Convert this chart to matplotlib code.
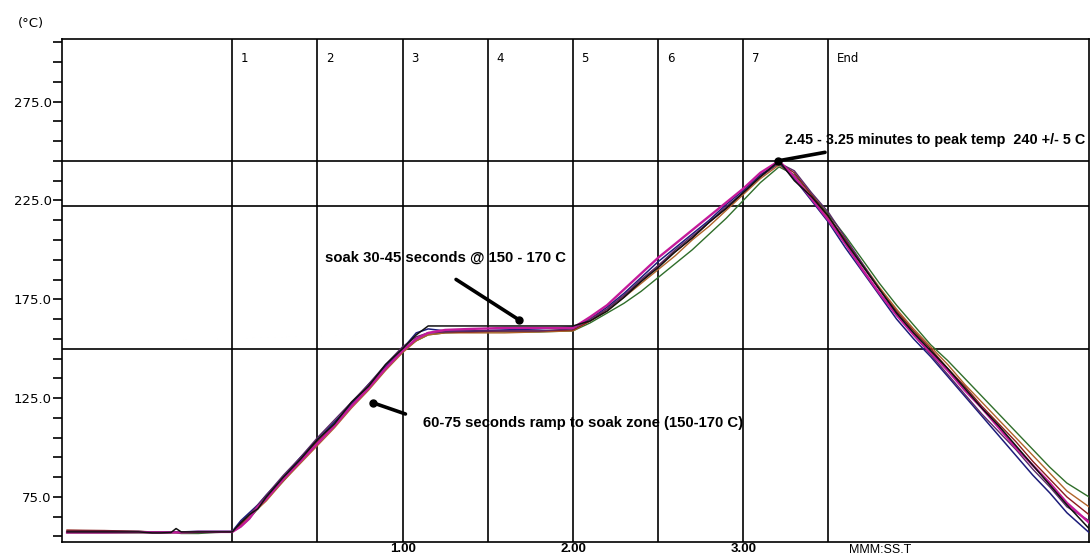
import numpy as np
import matplotlib
matplotlib.use("Agg")
import matplotlib.pyplot as plt
from matplotlib.ticker import FixedLocator, FormatStrFormatter

# time in minutes (0.00 = start of zone 1), shared by all thermocouples
time_min = [-0.97, -0.75, -0.55, -0.47, -0.42, -0.36, -0.33, -0.30, -0.20, -0.10, 0.00,
            0.05, 0.10, 0.15, 0.20, 0.30, 0.40, 0.50, 0.60, 0.70, 0.80, 0.90, 1.00, 1.08, 1.15, 1.25,
            1.40, 1.60, 1.80, 2.00,
            2.10, 2.20, 2.30, 2.40, 2.50, 2.60, 2.70, 2.80, 2.90, 3.00, 3.10, 3.21,
            3.30, 3.40, 3.50, 3.60, 3.70, 3.80, 3.90, 4.00, 4.10, 4.20, 4.30, 4.40, 4.50, 4.60,
            4.70, 4.80, 4.90, 5.03]

tc_green = [56.8, 56.8, 56.8, 56.8, 56.8, 56.8, 56.8, 56.5, 56.5, 57.0, 57.3,
            60, 64, 69, 74, 83, 93, 102, 112, 121, 130, 140, 149, 154, 157, 158,
            158.5, 158.5, 158.5, 159,
            163, 168, 173, 179, 186, 193, 200, 208, 216, 225, 234, 242,
            238, 228, 218, 207, 195, 183, 172, 162, 152, 144, 135, 126, 117, 108,
            99, 90, 82, 75]
tc_sienna = [58.0, 57.8, 57.5, 57.3, 57.3, 57.3, 57.3, 57.3, 57.3, 57.3, 57.3,
             61, 65, 69, 73, 83, 92, 101, 110, 120, 129, 139, 148, 154, 157, 158,
             158, 158, 158.5, 159,
             164, 169, 176, 183, 190, 197, 205, 212, 220, 228, 236, 243,
             237, 227, 216, 205, 193, 181, 170, 160, 151, 142, 132, 123, 114, 105,
             96, 87, 78, 70]
tc_red = [58.2, 58.0, 57.6, 57.3, 57.3, 57.3, 57.3, 57.3, 57.3, 57.3, 57.3,
          61, 66, 70, 75, 84, 94, 103, 112, 122, 131, 140, 149, 155, 158, 158.5,
          158.5, 159, 159, 159.5,
          164, 170, 177, 184, 192, 199, 206, 214, 221, 229, 237, 244,
          239, 228, 217, 205, 192, 180, 169, 159, 150, 140, 131, 121, 112, 103,
          93, 84, 75, 66]
tc_navy = [57.5, 57.5, 57.5, 57.2, 57.2, 57.3, 57.3, 57.3, 57.6, 57.6, 57.6,
           63, 67, 71, 76, 85, 95, 104, 113, 122, 132, 141, 150, 158, 160, 159,
           159, 159.5, 160, 161,
           165, 171, 178, 186, 194, 201, 208, 215, 223, 230, 238, 244,
           236, 225, 214, 201, 189, 177, 165, 155, 146, 136, 126, 116, 106, 96,
           86, 77, 67, 57]
tc_purple = [57.3, 57.3, 57.3, 57.0, 57.0, 57.2, 57.3, 57.3, 57.3, 57.3, 57.3,
             62, 66, 71, 76, 86, 95, 105, 114, 123, 132, 142, 151, 156, 158, 158.5,
             159, 159, 159, 160,
             165, 170, 177, 185, 192, 200, 207, 214, 222, 229, 237, 244,
             240, 229, 219, 206, 193, 180, 168, 157, 147, 137, 127, 117, 108, 99,
             89, 80, 70, 63]
tc_magenta = [57.0, 57.0, 57.2, 57.0, 57.0, 57.0, 57.0, 57.0, 57.3, 57.3, 57.3,
              60, 64, 70, 74, 84, 93, 102, 111, 121, 130, 140, 149, 155, 158, 159.5,
              160, 160.5, 160.5, 160.5,
              166, 172, 180, 188, 196, 203, 210, 217, 224, 231, 239, 245,
              237, 226, 215, 203, 190, 178, 167, 157, 148, 139, 129, 120, 110, 100,
              91, 82, 72, 62]
tc_black = [57.3, 57.3, 57.3, 56.8, 56.8, 57.0, 59.0, 57.3, 57.3, 57.3, 57.3,
            62, 66, 69, 75, 85, 94, 104, 112, 123, 131, 142, 150, 157, 161.5, 161.5,
            161.5, 161.5, 161.5, 161.5,
            164, 169, 176, 184, 191, 199, 206, 214, 221, 229, 237, 245,
            235, 227, 217, 204, 192, 180, 168, 158, 149, 140, 130, 120, 111, 101,
            91, 81, 71, 59]

zone_edges = [0.0, 0.5, 1.0, 1.5, 2.0, 2.5, 3.0, 3.5]
zone_names = ["1", "2", "3", "4", "5", "6", "7", "End"]
limit_temps = [150, 222, 245]
y_labels = [75, 125, 175, 225, 275]
y_minor = [55, 65, 85, 95, 105, 115, 135, 145, 155, 165, 185, 195, 205, 215,
           235, 245, 255, 265, 285, 295, 305]
x_labels = [1.0, 2.0, 3.0]

fig = plt.figure(figsize=(10.91, 5.56), dpi=100)
ax = fig.add_axes([0.0568, 0.0252, 0.9414, 0.9047])
ax.set_xlim(-1.0, 5.03)
ax.set_ylim(52.2, 306.7)

for x in zone_edges:
    ax.axvline(x, color="black", lw=1.2, zorder=1)
for y in limit_temps:
    ax.axhline(y, color="black", lw=1.2, zorder=1)

series = [
    (tc_green, "#2f6e2a", 1.0),
    (tc_sienna, "#b0642a", 1.0),
    (tc_red, "#8b1c1c", 1.0),
    (tc_navy, "#1c1c7a", 1.1),
    (tc_purple, "#5a2a66", 1.0),
    (tc_magenta, "#c41a9a", 1.7),
    (tc_black, "#111111", 1.1),
]
for temps, col, lw in series:
    ax.plot(time_min, temps, color=col, lw=lw, zorder=3)

for x, name in zip(zone_edges, zone_names):
    ax.text(x + 0.05, 297, name, fontsize=8.5, ha="left", va="center", color="black")

bold_font = dict(family=["Liberation Sans", "DejaVu Sans"], fontweight="bold",
                 fontsize=10.7, color="black")

# annotations with thick pointer lines ending in a dot
ax.text(0.545, 196, "soak 30-45 seconds @ 150 - 170 C", ha="left", va="center", **bold_font)
ax.annotate("", xy=(1.683, 164.6), xytext=(1.30, 185.8),
            arrowprops=dict(arrowstyle="-", lw=2.6, color="black"), zorder=5)
ax.plot([1.683], [164.6], "o", color="black", ms=5, zorder=5)

ax.text(1.12, 112.5, "60-75 seconds ramp to soak zone (150-170 C)", ha="left", va="center",
        **bold_font)
ax.annotate("", xy=(0.827, 122.6), xytext=(1.032, 116.5),
            arrowprops=dict(arrowstyle="-", lw=2.6, color="black"), zorder=5)
ax.plot([0.827], [122.6], "o", color="black", ms=5, zorder=5)

peak_font = dict(bold_font, fontsize=10.4)
ax.text(3.243, 255.6, "2.45 - 3.25 minutes to peak temp  240 +/- 5 C", ha="left", va="center",
        **peak_font)
ax.annotate("", xy=(3.202, 245.0), xytext=(3.496, 249.6),
            arrowprops=dict(arrowstyle="-", lw=2.6, color="black"), zorder=5)
ax.plot([3.202], [245.0], "o", color="black", ms=5, zorder=5)

# axes styling
for sp in ax.spines.values():
    sp.set_linewidth(1.2)
    sp.set_color("black")

ax.yaxis.set_major_locator(FixedLocator(y_labels))
ax.yaxis.set_minor_locator(FixedLocator(y_minor))
ax.yaxis.set_major_formatter(FormatStrFormatter("%.1f"))
ax.tick_params(axis="y", which="both", direction="out", length=6.5, width=1.2,
               labelsize=9.5, pad=1, colors="black")

ax.set_xticks(x_labels)
ax.set_xticklabels(["1.00", "2.00", "3.00"],
                   fontdict=dict(family=["Liberation Sans", "DejaVu Sans"],
                                 fontweight="bold", fontsize=9.5))
ax.tick_params(axis="x", which="both", length=0, pad=0.5, colors="black")
ax.text(3.62, -0.004, "MMM:SS.T", transform=ax.get_xaxis_transform(), ha="left", va="top",
        family=["Liberation Sans", "DejaVu Sans"], fontsize=9)

fig.text(18 / 1091, 1 - 24 / 556, "(°C)", fontsize=9.5, ha="left", va="center")

fig.savefig("out.png", dpi=100, facecolor="white")
